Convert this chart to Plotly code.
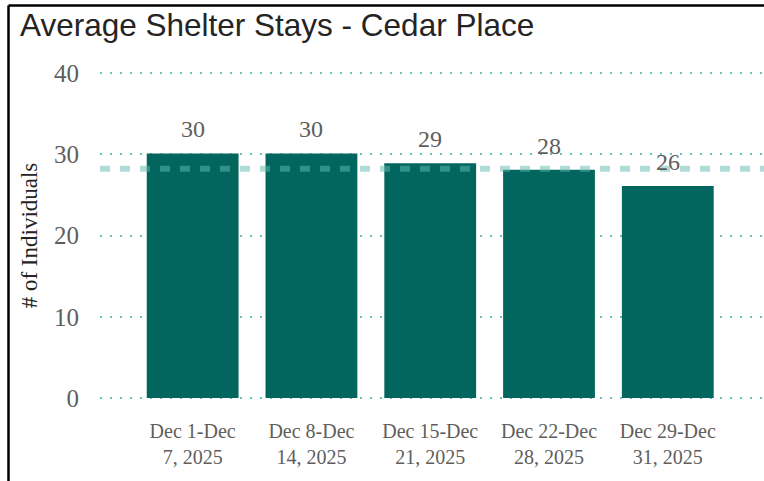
import plotly.graph_objects as go

categories = ["Dec 1-Dec<br>7, 2025", "Dec 8-Dec<br>14, 2025", "Dec 15-Dec<br>21, 2025",
              "Dec 22-Dec<br>28, 2025", "Dec 29-Dec<br>31, 2025"]
values = [30.1, 30.1, 28.9, 28.1, 26.1]
labels = ["30", "30", "29", "28", "26"]
avg_line = 28.2
y_ticks = [0, 10, 20, 30, 40]

BAR = "#03665e"
GRID = "#6dbfb7"
SERIF = "Liberation Serif, Times New Roman, serif"

fig = go.Figure()
fig.add_trace(go.Bar(x=list(range(len(categories))), y=values, marker_color=BAR,
                     marker_line_width=0, hoverinfo="skip"))

# average (dashed) line across plot
fig.add_shape(type="line", xref="paper", yref="y", x0=0, x1=1, y0=avg_line, y1=avg_line,
              line=dict(color="rgba(95,185,175,0.5)", width=6, dash="10px,10px"), layer="above")

for i, (v, t) in enumerate(zip(values, labels)):
    fig.add_annotation(x=i, y=v, text=t, showarrow=False, yanchor="bottom", yshift=9,
                       font=dict(family=SERIF, size=24, color="#605E5C"))

# frame lines (top and left)
FX = (8.5 - 100) / 664
FY = (402 - 5.5) / 333
fig.add_shape(type="line", xref="paper", yref="paper", x0=FX, x1=1.0, y0=FY, y1=FY,
              line=dict(color="black", width=2.5))
fig.add_shape(type="line", xref="paper", yref="paper", x0=FX, x1=FX, y0=FY, y1=-0.3,
              line=dict(color="black", width=2.5))

fig.update_layout(
    width=764, height=481,
    margin=dict(l=100, r=0, t=69, b=79),
    paper_bgcolor="white", plot_bgcolor="white",
    bargap=0.227,
    showlegend=False,
    title=dict(text="Average Shelter Stays - Cedar Place", x=20 / 764, xanchor="left",
               xref="container", yref="container", y=1 - 25 / 481, yanchor="middle",
               font=dict(family="Liberation Sans, Arial, sans-serif", size=31.5, color="#252423")),
    xaxis=dict(range=[-0.78, 4.81], tickvals=list(range(len(categories))), ticktext=categories,
               showgrid=False, zeroline=False, showline=False,
               tickfont=dict(family=SERIF, size=20, color="#605E5C"), ticklabelstandoff=15),
    yaxis=dict(range=[-0.492, 40.492], tickvals=y_ticks, showgrid=True, gridcolor=GRID, gridwidth=2,
               griddash="2px,8px", zeroline=False, showline=False,
               tickfont=dict(family=SERIF, size=25, color="#605E5C"), ticklabelstandoff=20,
               title=dict(text="# of Individuals", font=dict(family=SERIF, size=23, color="#252423"),
                          standoff=9)),
)

fig.write_html("out.html", config={"displayModeBar": False},
               post_script="document.body.style.margin='0';")
